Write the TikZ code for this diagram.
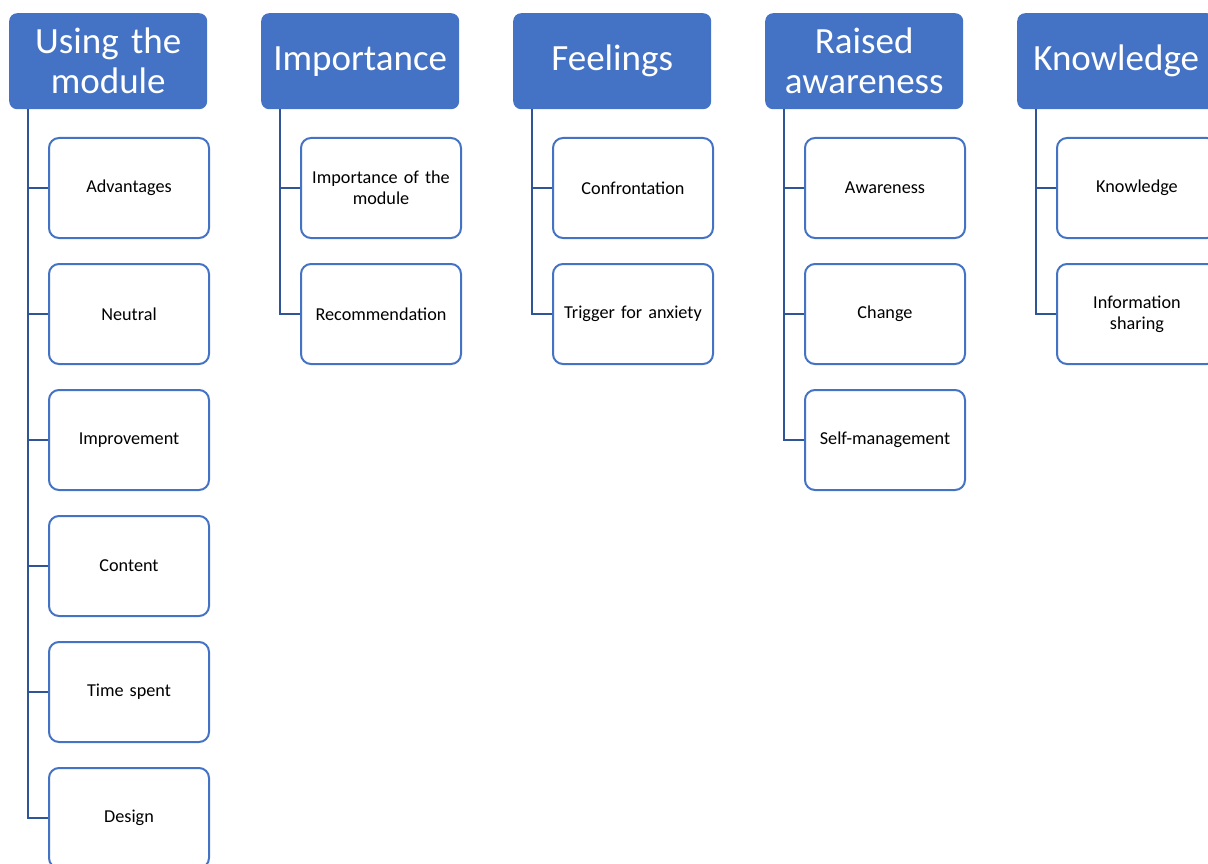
\documentclass[tikz,border=0pt]{standalone}
\usepackage{fontspec}
\setmainfont{Carlito}
\usetikzlibrary{calc}
\definecolor{hdr}{HTML}{4472C4}
\definecolor{lnk}{HTML}{2F5597}
\begin{document}
\begin{tikzpicture}[x=1pt,y=-1pt,
  header/.style={draw=none,fill=hdr,rounded corners=8pt,minimum width=198pt,minimum height=96pt,text width=196pt,align=center,text=white,font=\fontsize{37}{40}\selectfont,anchor=north west,inner sep=0pt},
  child/.style={draw=hdr,line width=2pt,fill=white,rounded corners=10pt,minimum width=160pt,minimum height=100pt,text width=156pt,align=center,font=\fontsize{18.2}{21}\selectfont,anchor=north west,inner sep=0pt},
  conn/.style={draw=lnk,line width=2.2pt}]
\useasboundingbox (0,0) rectangle (1208,864);
\clip (0,0) rectangle (1208,864);
% headers
\node[header] (h1) at (9,13) {Using the\\module};
\node[header] (h2) at (261,13) {Importance};
\node[header] (h3) at (513,13) {Feelings};
\node[header] (h4) at (765,13) {Raised\\awareness};
\node[header] (h5) at (1017,13) {Knowledge};
% trunk coordinates
\foreach \i in {1,...,5} {\coordinate (t\i) at ($(h\i.south west)+(19,0)$);}
% children
\foreach \txt [count=\j] in {Advantages,Neutral,Improvement,Content,Time spent,Design}
  {\node[child] (c1\j) at (48,{137+126*(\j-1)}) {\txt};}
\node[child] (c21) at (300,137) {Importance of the\\module};
\node[child] (c22) at (300,263) {Recommendation};
\node[child] (c31) at (552,137) {Confrontation};
\node[child] (c32) at (552,263) {Trigger for anxiety};
\node[child] (c41) at (804,137) {Awareness};
\node[child] (c42) at (804,263) {Change};
\node[child] (c43) at (804,389) {Self-management};
\node[child] (c51) at (1056,137) {Knowledge};
\node[child] (c52) at (1056,263) {Information\\sharing};
% connectors
\draw[conn] (t1) |- (c16.west);
\foreach \j in {1,...,5} {\draw[conn] (t1 |- c1\j.west) -- (c1\j.west);}
\draw[conn] (t2) |- (c22.west);
\draw[conn] (t2 |- c21.west) -- (c21.west);
\draw[conn] (t3) |- (c32.west);
\draw[conn] (t3 |- c31.west) -- (c31.west);
\draw[conn] (t4) |- (c43.west);
\foreach \j in {1,2} {\draw[conn] (t4 |- c4\j.west) -- (c4\j.west);}
\draw[conn] (t5) |- (c52.west);
\draw[conn] (t5 |- c51.west) -- (c51.west);
\end{tikzpicture}
\end{document}
